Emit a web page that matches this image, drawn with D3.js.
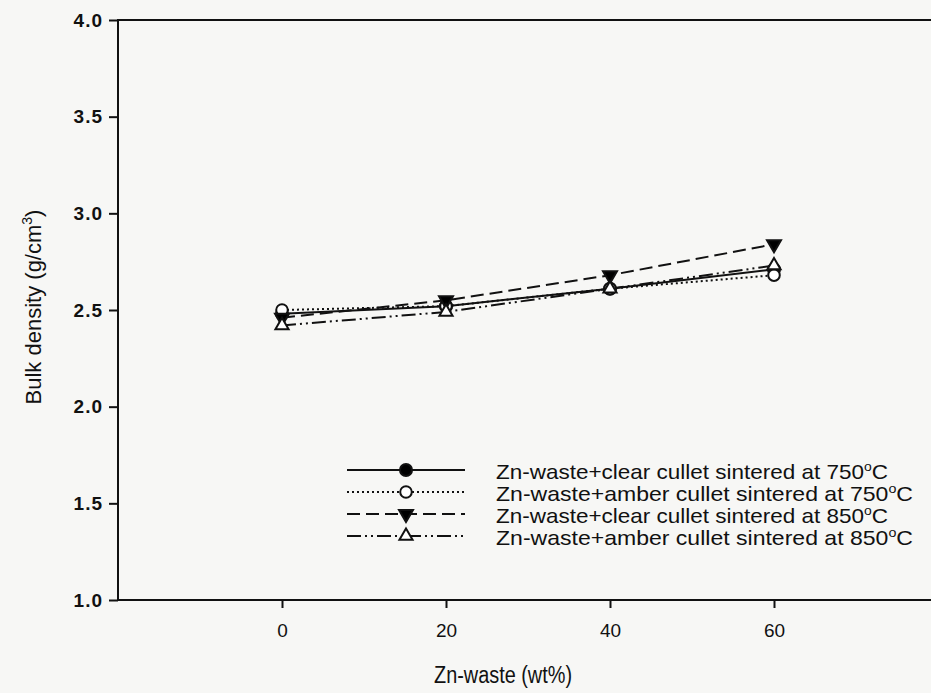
<!DOCTYPE html>
<html>
<head>
<meta charset="utf-8">
<script src="https://cdn.jsdelivr.net/npm/d3@7"></script>
<style>
  html, body { margin: 0; padding: 0; background: #f7f7f5; }
  svg { display: block; font-family: "Liberation Sans", Arial, sans-serif; }
</style>
</head>
<body>
<svg id="chart" width="931" height="693"></svg>
<script>
// Zn-waste content (wt%)
const znWaste = [0, 20, 40, 60];

// Bulk density (g/cm3) for each mix
const clear750 = [2.48, 2.52, 2.61, 2.71];
const amber750 = [2.50, 2.52, 2.61, 2.68];
const clear850 = [2.46, 2.55, 2.68, 2.84];
const amber850 = [2.42, 2.49, 2.61, 2.73];

const seriesNames = [
  "Zn-waste+clear cullet sintered at 750",
  "Zn-waste+amber cullet sintered at 750",
  "Zn-waste+clear cullet sintered at 850",
  "Zn-waste+amber cullet sintered at 850"
];

const xTicks = [0, 20, 40, 60];
const yTicks = [1.0, 1.5, 2.0, 2.5, 3.0, 3.5, 4.0];

const series = [
  { name: seriesNames[0], values: clear750, dash: null, symbol: d3.symbolCircle, fill: "#000", size: 115, len: 392 },
  { name: seriesNames[1], values: amber750, dash: "2,3", symbol: d3.symbolCircle, fill: "#fff", size: 105, len: 417 },
  { name: seriesNames[2], values: clear850, dash: "13,6", symbol: "down", fill: "#000", size: 85, len: 392 },
  { name: seriesNames[3], values: amber850, dash: "14,4,2,4,2,4", symbol: d3.symbolTriangle, fill: "#fff", size: 75, len: 417 }
];

const svg = d3.select("#chart");
const x = d3.scaleLinear().domain([-20, 80]).range([118, 938]);
const y = d3.scaleLinear().domain([1.0, 4.0]).range([600, 20]);

// frame
svg.append("rect")
  .attr("x", x(-20)).attr("y", y(4))
  .attr("width", x(80) - x(-20)).attr("height", y(1) - y(4))
  .attr("fill", "none").attr("stroke", "#111").attr("stroke-width", 2);

// y axis
const yAxis = svg.append("g")
  .attr("transform", `translate(${x(-20)},0)`)
  .call(d3.axisLeft(y).tickValues(yTicks).tickFormat(d3.format(".1f")).tickSize(9).tickPadding(6));
yAxis.select(".domain").remove();
yAxis.selectAll("line").attr("stroke", "#111").attr("stroke-width", 2);
yAxis.selectAll("text").attr("font-size", 19).attr("font-weight", "bold").attr("fill", "#111")
  .attr("letter-spacing", 1)
  .attr("font-family", "Liberation Sans, Arial, sans-serif");

// x axis
const xAxis = svg.append("g")
  .attr("transform", `translate(0,${y(1)})`)
  .call(d3.axisBottom(x).tickValues(xTicks).tickFormat(d3.format("d")).tickSize(8).tickPadding(16));
xAxis.select(".domain").remove();
xAxis.selectAll("line").attr("stroke", "#111").attr("stroke-width", 2);
xAxis.selectAll("text").attr("font-size", 19).attr("fill", "#111")
  .attr("font-family", "Liberation Sans, Arial, sans-serif");

// axis titles
svg.append("text")
  .attr("x", x(30) - 25).attr("y", 683)
  .attr("text-anchor", "middle").attr("font-size", 23).attr("fill", "#111")
  .attr("textLength", 138).attr("lengthAdjust", "spacingAndGlyphs")
  .text("Zn-waste (wt%)");

const yTitle = svg.append("text")
  .attr("transform", `translate(41,${y(2.5) - 3}) rotate(-90)`)
  .attr("text-anchor", "middle").attr("font-size", 22).attr("fill", "#111");
yTitle.append("tspan").text("Bulk density (g/cm");
yTitle.append("tspan").attr("dy", -9).attr("font-size", 14).text("3");
yTitle.append("tspan").attr("dy", 9).text(")");

function symbolPath(s) {
  const type = s.symbol === "down" ? d3.symbolTriangle : s.symbol;
  return d3.symbol().type(type).size(s.size)();
}
function symbolRotate(s) { return s.symbol === "down" ? " rotate(180)" : ""; }

const line = d3.line().x((d, i) => x(znWaste[i])).y(d => y(d));

// series lines and markers
series.forEach(s => {
  svg.append("path")
    .attr("d", line(s.values))
    .attr("fill", "none").attr("stroke", "#111").attr("stroke-width", 2)
    .attr("stroke-dasharray", s.dash);
});
series.forEach(s => {
  svg.append("g").selectAll("path")
    .data(s.values)
    .join("path")
    .attr("d", symbolPath(s))
    .attr("transform", (d, i) => `translate(${x(znWaste[i])},${y(d)})${symbolRotate(s)}`)
    .attr("fill", s.fill).attr("stroke", "#111").attr("stroke-width", 2);
});

// legend
const legend = svg.append("g");
const rowY = [470, 492, 514, 536];
series.forEach((s, i) => {
  const g = legend.append("g").attr("transform", `translate(0,${rowY[i]})`);
  g.append("line").attr("x1", 347).attr("x2", 465).attr("y1", 0).attr("y2", 0)
    .attr("stroke", "#111").attr("stroke-width", 2).attr("stroke-dasharray", s.dash);
  g.append("path").attr("d", symbolPath(s))
    .attr("transform", `translate(406,0)${symbolRotate(s)}`)
    .attr("fill", s.fill).attr("stroke", "#111").attr("stroke-width", 2);
  const t = g.append("text").attr("x", 496).attr("y", 9).attr("font-size", 21).attr("fill", "#111")
    .attr("textLength", s.len).attr("lengthAdjust", "spacingAndGlyphs");
  t.append("tspan").text(s.name);
  t.append("tspan").attr("dy", -8).attr("font-size", 13).text("o");
  t.append("tspan").attr("dy", 8).text("C");
});
</script>
</body>
</html>
